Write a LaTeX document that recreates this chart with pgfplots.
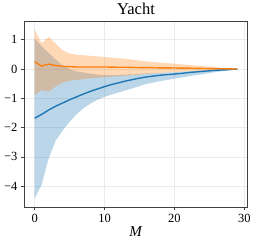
\documentclass[border=0pt]{standalone}
\usepackage{pgfplots}
\pgfplotsset{compat=1.18}
\usepackage{pgfplotstable}
\usepgfplotslibrary{fillbetween}
\usepackage{fontspec}
\setmainfont{Liberation Serif}
\definecolor{C0}{HTML}{1F77B4}
\definecolor{C1}{HTML}{FF7F0E}
\definecolor{gridc}{HTML}{EBEBEB}
\definecolor{spine}{HTML}{404040}

\pgfplotstableread{
M mean lo hi
0 -1.68 -4.42 1.05
1 -1.55 -3.95 0.78
2 -1.40 -3.05 0.55
3 -1.27 -2.45 0.33
4 -1.16 -2.10 0.12
5 -1.05 -1.80 0.00
6 -0.95 -1.54 -0.08
7 -0.85 -1.34 -0.12
8 -0.76 -1.18 -0.16
9 -0.68 -1.05 -0.19
10 -0.60 -0.95 -0.21
11 -0.53 -0.87 -0.21
12 -0.47 -0.80 -0.20
13 -0.41 -0.73 -0.19
14 -0.36 -0.66 -0.18
15 -0.31 -0.58 -0.17
16 -0.27 -0.51 -0.15
17 -0.24 -0.46 -0.14
18 -0.21 -0.41 -0.13
19 -0.19 -0.37 -0.12
20 -0.17 -0.33 -0.11
21 -0.15 -0.29 -0.09
22 -0.12 -0.25 -0.08
23 -0.10 -0.21 -0.06
24 -0.08 -0.18 -0.05
25 -0.06 -0.14 -0.04
26 -0.04 -0.10 -0.03
27 -0.03 -0.07 -0.02
28 -0.015 -0.04 -0.01
29 0 0 0
}\blue

\pgfplotstableread{
M mean lo hi
0 0.25 -0.89 1.35
1 0.10 -0.72 0.88
2 0.17 -0.77 1.10
3 0.12 -0.60 0.87
4 0.09 -0.47 0.64
5 0.08 -0.40 0.53
6 0.07 -0.37 0.49
7 0.07 -0.34 0.47
8 0.07 -0.32 0.45
9 0.07 -0.30 0.43
10 0.07 -0.28 0.41
11 0.065 -0.26 0.39
12 0.06 -0.25 0.37
13 0.06 -0.23 0.35
14 0.055 -0.21 0.32
15 0.05 -0.19 0.29
16 0.05 -0.17 0.26
17 0.045 -0.15 0.24
18 0.04 -0.13 0.22
19 0.04 -0.12 0.20
20 0.035 -0.10 0.18
21 0.03 -0.09 0.16
22 0.03 -0.08 0.14
23 0.025 -0.07 0.12
24 0.02 -0.06 0.10
25 0.015 -0.05 0.08
26 0.01 -0.04 0.06
27 0.008 -0.03 0.04
28 0.004 -0.015 0.02
29 0 0 0
}\orange

\begin{document}
\begin{tikzpicture}
\begin{axis}[
  scale only axis,
  width=223pt, height=186pt,
  xmin=-1.45, xmax=30.45, ymin=-4.71, ymax=1.64,
  xtick={0,10,20,30}, ytick={-4,-3,-2,-1,0,1},
  xticklabels={0,10,20,30},
  yticklabels={−4,−3,−2,−1,0,1},
  grid=major,
  major grid style={gridc, line width=0.6pt},
  axis line style={spine, line width=0.8pt},
  tick style={spine, line width=0.6pt},
  tick align=outside,
  major tick length=3.5pt,
  xtick pos=bottom, ytick pos=left,
  ticklabel style={font=\fontsize{12.5}{14}\selectfont},
  title={Yacht},
  title style={font=\fontsize{16.5}{18}\selectfont, yshift=-3.5pt},
  xlabel={\textit{M}},
  xlabel style={font=\fontsize{15}{17}\selectfont, yshift=3pt},
]
\addplot[name path=bu, draw=none, forget plot] table[x=M, y=hi] {\blue};
\addplot[name path=bl, draw=none, forget plot] table[x=M, y=lo] {\blue};
\addplot[C0, fill opacity=0.3, draw=none] fill between[of=bu and bl];
\addplot[name path=ou, draw=none, forget plot] table[x=M, y=hi] {\orange};
\addplot[name path=ol, draw=none, forget plot] table[x=M, y=lo] {\orange};
\addplot[C1, fill opacity=0.3, draw=none] fill between[of=ou and ol];
\addplot[C0, line width=1.4pt, mark=none] table[x=M, y=mean] {\blue};
\addplot[C1, line width=1.4pt, mark=none] table[x=M, y=mean] {\orange};
\end{axis}
\pgfresetboundingbox
\path (current axis.south west) ++(-24.5pt,-37pt) rectangle ([shift={(8.5pt,21pt)}]current axis.north east);
\end{tikzpicture}
\end{document}
